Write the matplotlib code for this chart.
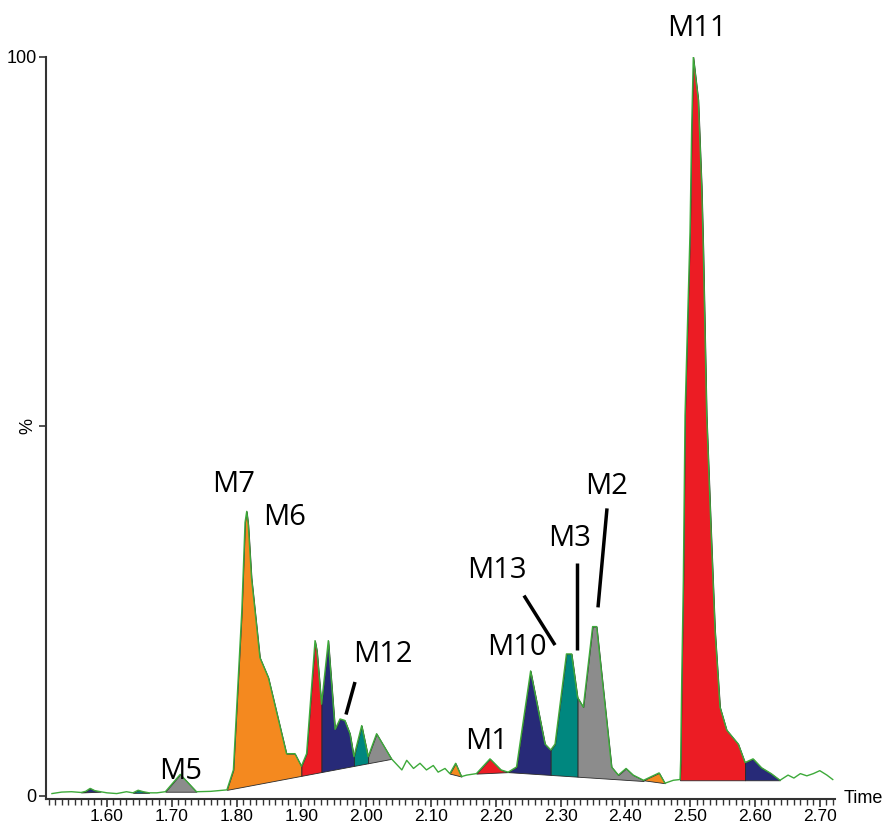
#!/usr/bin/env python3
"""
Chromatogram with integrated (coloured) metabolite peaks M1-M13
"""

import numpy as np
import matplotlib.pyplot as plt
from matplotlib.ticker import MultipleLocator

# retention time (min) and relative intensity (%)
rt = np.array([
    1.515, 1.530, 1.545, 1.560, 1.567, 1.574, 1.581, 1.590, 1.600, 1.615,
    1.630, 1.640, 1.648, 1.656, 1.665, 1.677, 1.690, 1.713, 1.738, 1.760,
    1.785, 1.795, 1.808, 1.813, 1.8156, 1.818, 1.823, 1.836, 1.849, 1.877,
    1.890, 1.900, 1.908, 1.921, 1.924, 1.931, 1.9415, 1.952, 1.9596, 1.967,
    1.975, 1.981, 1.993, 2.003, 2.016, 2.039, 2.055, 2.0625, 2.073, 2.083,
    2.093, 2.1035, 2.111, 2.1216, 2.129, 2.138, 2.147, 2.155, 2.170, 2.191,
    2.208, 2.219, 2.232, 2.2537, 2.276, 2.2847, 2.2914, 2.309, 2.317, 2.3262,
    2.335, 2.3494, 2.3556, 2.3787, 2.389, 2.401, 2.412, 2.428, 2.452, 2.461,
    2.474, 2.4843, 2.4853, 2.4869, 2.4894, 2.492, 2.4997, 2.5023, 2.5048, 2.5125,
    2.5177, 2.5202, 2.5254, 2.5332, 2.5383, 2.546, 2.5563, 2.5742, 2.5846, 2.597,
    2.610, 2.625, 2.6386, 2.651, 2.660, 2.670, 2.680, 2.690, 2.700, 2.711,
    2.720])
pct = np.array([
    0.3, 0.5, 0.55, 0.45, 0.6, 1.0, 0.7, 0.55, 0.4, 0.3,
    0.55, 0.4, 0.75, 0.55, 0.4, 0.4, 0.55, 2.9, 0.55, 0.6,
    0.8, 3.5, 25.0, 37.0, 38.5, 36.7, 29.5, 18.7, 16.0, 5.7,
    5.7, 4.0, 5.7, 21.0, 19.6, 12.4, 21.0, 9.0, 10.4, 10.2,
    8.4, 5.3, 9.5, 5.3, 8.4, 5.0, 3.5, 4.8, 3.7, 4.4,
    3.5, 4.1, 3.2, 3.7, 3.0, 4.4, 2.6, 2.8, 3.0, 5.0,
    3.5, 3.2, 3.9, 16.9, 7.0, 6.2, 7.0, 19.2, 19.2, 13.3,
    12.0, 22.9, 22.9, 3.9, 2.8, 3.7, 2.8, 2.1, 3.1, 1.7,
    2.1, 2.2, 4.9, 15.6, 29.1, 51.5, 76.3, 90.6, 100.0, 94.2,
    82.5, 74.0, 51.5, 33.6, 22.4, 12.0, 8.9, 7.0, 4.5, 5.0,
    3.8, 3.0, 2.1, 2.8, 2.4, 3.0, 2.7, 3.0, 3.4, 2.8,
    2.2])

# integrated peak windows and their baselines
peak_start = [1.560, 1.640, 1.690, 1.785, 1.900, 1.931, 1.981, 2.003,
              2.129, 2.170, 2.219, 2.2847, 2.3262, 2.428, 2.4843, 2.5846]
peak_end = [1.590, 1.665, 1.738, 1.900, 1.931, 1.981, 2.003, 2.039,
            2.147, 2.219, 2.2847, 2.3262, 2.428, 2.461, 2.5846, 2.6386]
peak_col = ['navy', 'teal', 'gray', 'orange', 'red', 'navy', 'teal', 'gray',
            'orange', 'red', 'navy', 'teal', 'gray', 'orange', 'red', 'navy']
base_t0 = [1.560, 1.640, 1.690, 1.785, 1.785, 1.785, 1.785, 1.785,
           2.129, 2.170, 2.219, 2.219, 2.219, 2.428, 2.4843, 2.4843]
base_v0 = [0.45, 0.4, 0.55, 0.8, 0.8, 0.8, 0.8, 0.8,
           3.0, 3.0, 3.2, 3.2, 3.2, 2.1, 2.1, 2.1]
base_t1 = [1.590, 1.665, 1.738, 2.039, 2.039, 2.039, 2.039, 2.039,
           2.147, 2.219, 2.428, 2.428, 2.428, 2.461, 2.6386, 2.6386]
base_v1 = [0.55, 0.4, 0.55, 5.0, 5.0, 5.0, 5.0, 5.0,
           2.6, 3.2, 2.0, 2.0, 2.0, 1.7, 2.1, 2.1]

# peak labels
lab_text = ['M11', 'M7', 'M6', 'M5', 'M12', 'M1', 'M10', 'M13', 'M3', 'M2']
lab_t = [2.5105, 1.796, 1.8747, 1.714, 2.026, 2.1864, 2.2327, 2.2019, 2.3145, 2.3716]
lab_v = [103.9, 42.2, 37.7, 3.3, 19.1, 7.4, 20.1, 30.5, 34.8, 41.9]

# leader lines (t0, v0) -> (t1, v1)
lead_t0 = [1.9827, 2.2435, 2.3253, 2.3716]
lead_v0 = [15.4, 27.1, 31.5, 38.9]
lead_t1 = [1.9688, 2.2914, 2.3253, 2.3577]
lead_v1 = [11.0, 20.4, 19.7, 25.5]

colors = {'orange': '#F4891F', 'red': '#EC1C24', 'navy': '#272A78',
          'teal': '#00877F', 'gray': '#8C8C8C'}

fig = plt.figure(figsize=(8.84, 8.26), dpi=100)
ax = fig.add_axes([0.0526, 0.033, 0.892, 0.898])

for s, e, c, t0, v0, t1, v1 in zip(peak_start, peak_end, peak_col,
                                   base_t0, base_v0, base_t1, base_v1):
    m = (rt >= s - 1e-6) & (rt <= e + 1e-6)
    base = np.interp(rt[m], [t0, t1], [v0, v1])
    ax.fill_between(rt[m], base, pct[m], facecolor=colors[c],
                    edgecolor='#2a2a2a', linewidth=0.6, zorder=2)

ax.plot(rt, pct, color='#3DAA3A', linewidth=1.0, zorder=3)

for txt, t, v in zip(lab_text, lab_t, lab_v):
    ax.text(t, v, txt, fontsize=21, family='Open Sans', ha='center',
            va='center', clip_on=False, zorder=5)

for t0, v0, t1, v1 in zip(lead_t0, lead_v0, lead_t1, lead_v1):
    ax.plot([t0, t1], [v0, v1], color='black', linewidth=2.5,
            solid_capstyle='butt', zorder=5)

ax.set_xlim(1.5066, 2.7235)
ax.set_ylim(-0.4, 100)

ax.spines['top'].set_visible(False)
ax.spines['right'].set_visible(False)
for sp in ['left', 'bottom']:
    ax.spines[sp].set_color('#333333')
    ax.spines[sp].set_linewidth(1.5)
ax.spines['left'].set_bounds(-0.4, 100)

ax.set_xticks(np.arange(1.60, 2.71, 0.10))
ax.set_xticklabels([f'{v:.2f}' for v in np.arange(1.60, 2.71, 0.10)])
ax.xaxis.set_minor_locator(MultipleLocator(0.01))
ax.tick_params(axis='x', which='major', length=6, width=1.2, color='#333333',
               labelsize=12.5, pad=1.5)
ax.tick_params(axis='x', which='minor', length=4, width=1.0, color='#333333')

ax.set_yticks([0, 50, 100])
ax.set_yticklabels(['0', '%', '100'])
ax.tick_params(axis='y', length=5, width=1.2, color='#333333', labelsize=13, pad=2)
ax.get_yticklabels()[1].set_rotation(90)
ax.get_yticklabels()[1].set_va('center')

for lbl in ax.get_xticklabels() + ax.get_yticklabels():
    lbl.set_family('Liberation Sans')

ax.annotate('Time', xy=(1, 0), xycoords='axes fraction', xytext=(6, 0),
            textcoords='offset points', fontsize=13, family='Liberation Sans',
            va='center', ha='left')

plt.savefig('out.png', dpi=100)
plt.close()
